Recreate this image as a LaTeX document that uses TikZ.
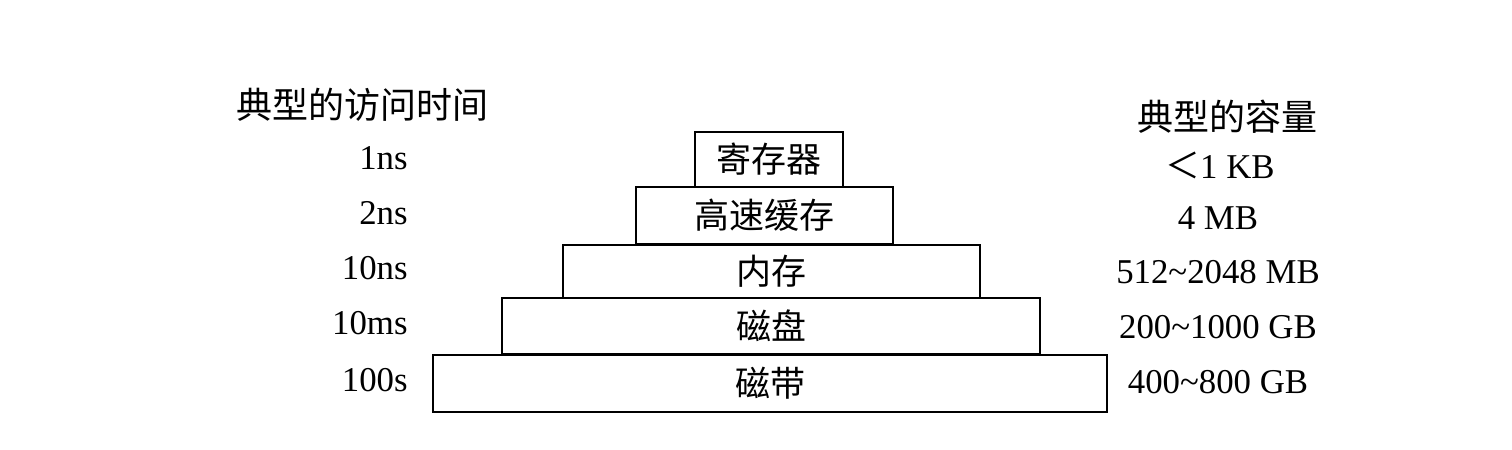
\documentclass[tikz,border=0pt]{standalone}
\usepackage{fontspec}
\setmainfont{Liberation Serif}
\newfontfamily\cjk{Noto Sans CJK SC}
\begin{document}
\begin{tikzpicture}[x=0.5pt,y=-0.5pt,
  tier/.style={draw,line width=1pt,inner sep=0pt,font=\cjk\fontsize{17.5}{20}\selectfont},
  head/.style={inner sep=0pt,font=\cjk\fontsize{18}{20}\selectfont},
  val/.style={inner sep=0pt,font=\fontsize{17.4}{20}\selectfont}]
\useasboundingbox[fill=white] (0,0) rectangle (1512,450);
% pyramid tiers
\node[tier,minimum width=74pt,minimum height=27.5pt] (reg) at (769,159.5) {寄存器};
\node[tier,minimum width=128.5pt,minimum height=28.5pt] (cache) at (764.5,215.5) {高速缓存};
\node[tier,minimum width=208.5pt,minimum height=26.5pt] (mem) at (771.5,271.5) {内存};
\node[tier,minimum width=269pt,minimum height=28pt] (disk) at (771,326) {磁盘};
\node[tier,minimum width=337pt,minimum height=28.5pt] (tape) at (770,383.5) {磁带};
% left column
\node[head] (lh) at (362,105) {典型的访问时间};
\node[val,anchor=east] (t1) at (408,158) {1ns};
\node[val,anchor=east] (t2) at (408,213) {2ns};
\node[val,anchor=east] (t3) at (408,268) {10ns};
\node[val,anchor=east] (t4) at (408,323) {10ms};
\node[val,anchor=east] (t5) at (408,380) {100s};
% right column
\node[head] (rh) at (1227,117) {典型的容量};
\node[val] (c1) at (1220,165) {{\cjk ＜}1 KB};
\node[val] (c2) at (1218,218) {4 MB};
\node[val] (c3) at (1218,272) {512\textasciitilde2048 MB};
\node[val] (c4) at (1218,327) {200\textasciitilde1000 GB};
\node[val] (c5) at (1218,382) {400\textasciitilde800 GB};
\end{tikzpicture}
\end{document}
